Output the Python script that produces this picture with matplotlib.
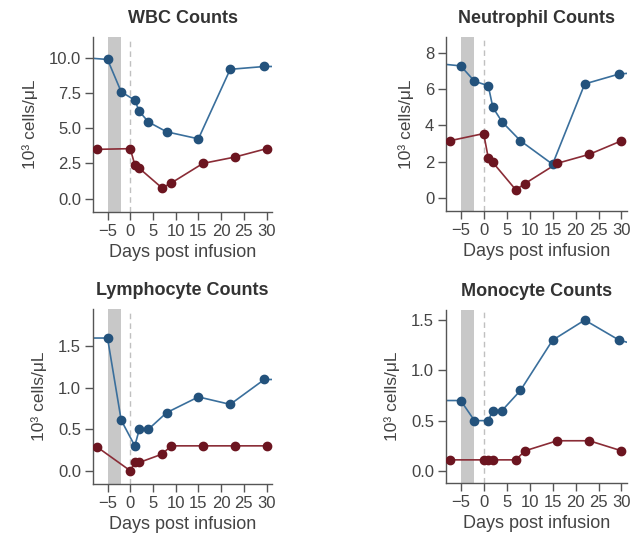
import matplotlib
matplotlib.use("Agg")
import matplotlib.pyplot as plt

plt.rcParams['font.family'] = ['Liberation Sans', 'DejaVu Sans']

titles = ["WBC Counts", "Neutrophil Counts", "Lymphocyte Counts", "Monocyte Counts"]

# blue series (days, values); first/last point lie beyond the axis range (line runs off edges)
blue_days = [-9, -5, -2, 1, 2, 4, 8, 15, 22, 29.5, 32]
wbc_blue = [10.0, 9.9, 7.6, 7.0, 6.2, 5.45, 4.75, 4.25, 9.2, 9.4, 9.4]
neu_blue = [7.4, 7.3, 6.45, 6.2, 5.0, 4.2, 3.15, 1.85, 6.3, 6.85, 6.9]
lym_blue = [1.6, 1.6, 0.61, 0.3, 0.5, 0.5, 0.7, 0.89, 0.8, 1.1, 1.1]
mon_blue = [0.7, 0.7, 0.5, 0.5, 0.6, 0.6, 0.8, 1.3, 1.5, 1.3, 1.27]

red_days = [-7.4, 0, 1, 2, 7, 9, 16, 23, 30]
wbc_red = [3.5, 3.55, 2.4, 2.15, 0.75, 1.1, 2.5, 2.95, 3.55]
neu_red = [3.15, 3.55, 2.2, 1.95, 0.43, 0.78, 1.9, 2.4, 3.15]
lym_red = [0.29, 0.0, 0.1, 0.1, 0.2, 0.3, 0.3, 0.3, 0.3]
mon_red = [0.11, 0.11, 0.11, 0.11, 0.11, 0.2, 0.3, 0.3, 0.2]

blues = [wbc_blue, neu_blue, lym_blue, mon_blue]
reds = [wbc_red, neu_red, lym_red, mon_red]

yticks = [[0.0, 2.5, 5.0, 7.5, 10.0], [0, 2, 4, 6, 8], [0.0, 0.5, 1.0, 1.5], [0.0, 0.5, 1.0, 1.5]]
yfmt = ["{:.1f}", "{:.0f}", "{:.1f}", "{:.1f}"]
ylims = [(-0.96, 11.5), (-0.74, 8.9), (-0.16, 1.95), (-0.12, 1.6)]
xticks = [-5, 0, 5, 10, 15, 20, 25, 30]
band = (-5, -2)

W, H = 630, 539
# axes boxes in pixels: left, top, right, bottom
boxes = [(93, 37, 272, 212), (446, 37, 627, 211), (93, 309, 272, 484), (446, 310, 627, 483)]

fig = plt.figure(figsize=(W / 100, H / 100), dpi=100)
grey = "#555555"
blue_line = "#3a6f9c"
blue_mark = "#23527c"
red_line = "#8a2c36"
red_mark = "#6c1520"

for i in range(4):
    l, t, r, b = boxes[i]
    ax = fig.add_axes([l / W, 1 - b / H, (r - l) / W, (b - t) / H])
    ax.axvspan(band[0], band[1], color="#c8c8c8", lw=0, zorder=0)
    ax.axvline(0, color="#c0c0c0", lw=1.0, ls=(0, (4, 3)), zorder=1)
    ax.plot(blue_days, blues[i], color=blue_line, lw=1.2, zorder=2)
    ax.plot(blue_days[1:-1], blues[i][1:-1], ls="none", marker="o", ms=6, color=blue_mark, zorder=3)
    ax.plot(red_days, reds[i], color=red_line, lw=1.2, zorder=2)
    ax.plot(red_days, reds[i], ls="none", marker="o", ms=6, color=red_mark, zorder=3)
    ax.set_xlim(-8.2, 31.2)
    ax.set_ylim(*ylims[i])
    ax.set_xticks(xticks)
    ax.set_xticklabels([("\u2212" + str(-v)) if v < 0 else str(v) for v in xticks])
    ax.set_yticks(yticks[i])
    ax.set_yticklabels([yfmt[i].format(v) for v in yticks[i]])
    for s in ["top", "right"]:
        ax.spines[s].set_visible(False)
    for s in ["left", "bottom"]:
        ax.spines[s].set_color(grey)
        ax.spines[s].set_linewidth(1.0)
    ax.tick_params(colors=grey, labelcolor="#444444", labelsize=12, length=6, width=1.0, pad=2.5)
    ax.set_xlabel("Days post infusion", fontsize=13, color="#444444", labelpad=4)
    ax.set_ylabel("10\u00b3 cells/\u03bcL", fontsize=12.5, color="#444444", labelpad=8)
    ax.set_title(titles[i], fontsize=13, fontweight="bold", color="#333333", pad=10)

fig.savefig("out.png", dpi=100)
